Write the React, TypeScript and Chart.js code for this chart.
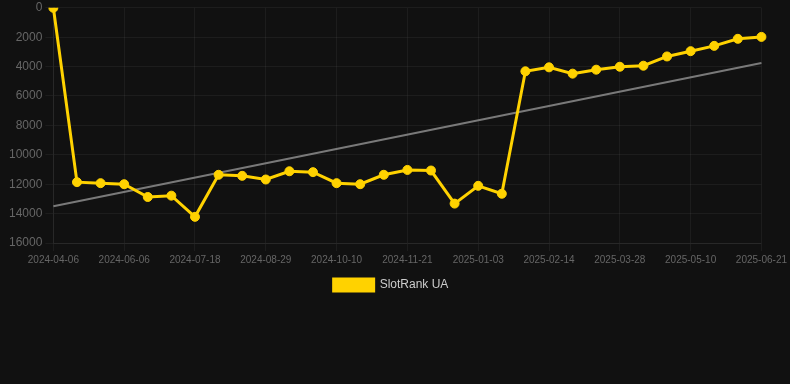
import React, { useEffect, useRef } from "react";
import { Chart, registerables } from "chart.js";

Chart.register(...registerables);

const dates: string[] = [
  "2024-04-06", "2024-05-09", "2024-05-23", "2024-06-06", "2024-06-20", "2024-07-04",
  "2024-07-18", "2024-08-01", "2024-08-15", "2024-08-29", "2024-09-12", "2024-09-26",
  "2024-10-10", "2024-10-24", "2024-11-07", "2024-11-21", "2024-12-05", "2024-12-19",
  "2025-01-03", "2025-01-17", "2025-01-31", "2025-02-14", "2025-02-28", "2025-03-14",
  "2025-03-28", "2025-04-11", "2025-04-25", "2025-05-10", "2025-05-24", "2025-06-07",
  "2025-06-21",
];

const rankValues: number[] = [
  1, 11860, 11930, 12000, 12870, 12780, 14220, 11360, 11430, 11680, 11120, 11180,
  11930, 12000, 11360, 11030, 11070, 13320, 12110, 12650, 4320, 4050, 4480, 4210,
  4010, 3940, 3310, 2950, 2590, 2110, 1980,
];

const trendStart = 13500;
const trendEnd = 3760;

const yTicks: number[] = [0, 2000, 4000, 6000, 8000, 10000, 12000, 14000, 16000];

const seriesName = "SlotRank UA";

export default function App() {
  const ref = useRef<HTMLCanvasElement | null>(null);

  useEffect(() => {
    document.body.style.margin = "0";
    document.body.style.background = "#111111";
    const canvas = ref.current;
    if (!canvas) return;
    const trendData = dates.map((_, i) =>
      i === 0 ? trendStart : i === dates.length - 1 ? trendEnd : null
    );
    const chart = new Chart(canvas, {
      type: "line",
      data: {
        labels: dates,
        datasets: [
          {
            label: seriesName,
            data: rankValues,
            borderColor: "#FFD200",
            backgroundColor: "#FFD200",
            borderWidth: 3,
            pointRadius: 4.5,
            pointBorderWidth: 1,
            pointBackgroundColor: "#FFD200",
            pointBorderColor: "#FFD200",
            tension: 0,
            order: 1,
          },
          {
            label: "trend",
            data: trendData,
            borderColor: "rgba(140,140,140,0.85)",
            borderWidth: 2,
            pointRadius: 0,
            spanGaps: true,
            order: 2,
          },
        ],
      },
      options: {
        animation: false,
        responsive: false,
        maintainAspectRatio: false,
        layout: { padding: { left: 6, right: 14, top: 0, bottom: 83 } },
        plugins: {
          legend: {
            position: "bottom",
            labels: {
              color: "#cccccc",
              boxWidth: 40,
              boxHeight: 12,
              font: { size: 12 },
              filter: (item) => item.text === seriesName,
            },
          },
          tooltip: { enabled: false },
        },
        scales: {
          x: {
            offset: false,
            grid: { color: "rgba(255,255,255,0.05)", tickLength: 8 },
            border: { color: "rgba(255,255,255,0.05)" },
            ticks: {
              color: "#666666",
              font: { size: 10 },
              autoSkip: false,
              maxRotation: 0,
              callback: function (_v, i) {
                return i % 3 === 0 ? dates[i] : null;
              },
            },
          },
          y: {
            reverse: true,
            min: yTicks[0],
            max: yTicks[yTicks.length - 1],
            afterBuildTicks: (axis) => {
              axis.ticks = yTicks.map((v) => ({ value: v }));
            },
            grid: { color: "rgba(255,255,255,0.05)", tickLength: 8 },
            border: { color: "rgba(255,255,255,0.05)" },
            ticks: {
              color: "#666666",
              font: { size: 12, lineHeight: 0.8 },
              callback: (v) => String(v),
            },
          },
        },
      },
    });
    return () => chart.destroy();
  }, []);

  return <canvas ref={ref} width={790} height={384} style={{ display: "block" }} />;
}
